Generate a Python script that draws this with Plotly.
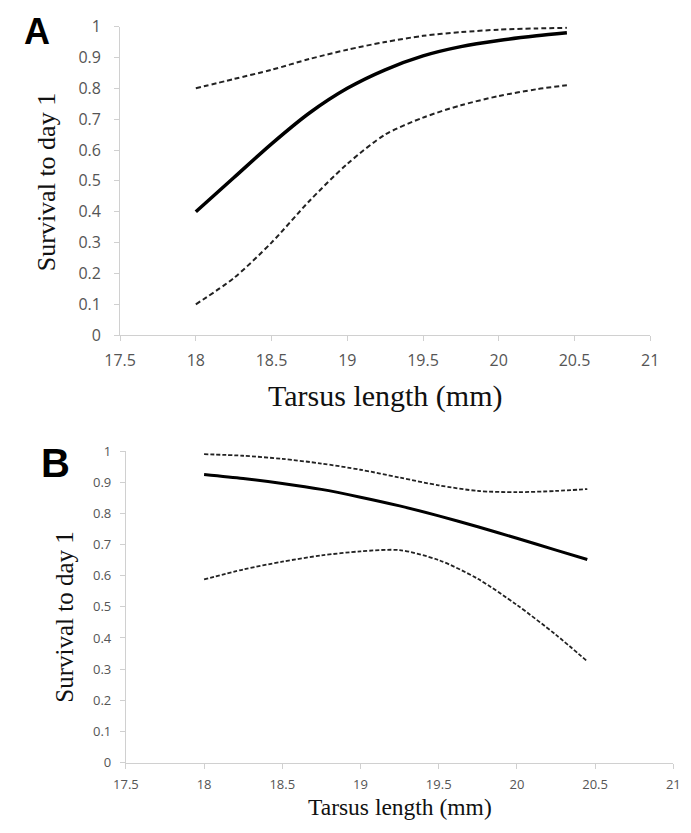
import plotly.graph_objects as go

# ---- data ----
tarsus = [18.0, 18.25, 18.5, 18.75, 19.0, 19.25, 19.5, 19.75, 20.0, 20.25, 20.45]

a_fit   = [0.40, 0.51, 0.62, 0.72, 0.80, 0.86, 0.905, 0.935, 0.955, 0.97, 0.98]
a_upper = [0.80, 0.83, 0.86, 0.895, 0.925, 0.95, 0.97, 0.982, 0.99, 0.994, 0.996]
a_lower = [0.10, 0.185, 0.30, 0.435, 0.555, 0.65, 0.705, 0.745, 0.775, 0.797, 0.81]

b_fit   = [0.925, 0.912, 0.896, 0.877, 0.852, 0.824, 0.792, 0.757, 0.72, 0.682, 0.652]
b_upper = [0.99, 0.985, 0.975, 0.96, 0.94, 0.915, 0.89, 0.872, 0.868, 0.872, 0.878]
b_lower = [0.588, 0.62, 0.645, 0.665, 0.678, 0.682, 0.65, 0.59, 0.506, 0.41, 0.325]

x_ticks = [17.5, 18, 18.5, 19, 19.5, 20, 20.5, 21]
x_ticklabels = ["17.5", "18", "18.5", "19", "19.5", "20", "20.5", "21"]
y_ticks = [0, 0.1, 0.2, 0.3, 0.4, 0.5, 0.6, 0.7, 0.8, 0.9, 1]
y_ticklabels = ["0", "0.1", "0.2", "0.3", "0.4", "0.5", "0.6", "0.7", "0.8", "0.9", "1"]

x_title = "Tarsus length (mm)"
y_title = "Survival to day 1"

W, H = 691, 833

fig = go.Figure()

def add_panel(xa, ya, fit, up, lo, w_fit, w_dash, dash):
    for ys, width, d in [(up, w_dash, dash), (lo, w_dash, dash), (fit, w_fit, "solid")]:
        fig.add_trace(go.Scatter(
            x=tarsus, y=ys, mode="lines", xaxis=xa, yaxis=ya,
            line=dict(color="black" if d == "solid" else "#222222", width=width, dash=d,
                      shape="spline", smoothing=0.8),
            showlegend=False, hoverinfo="skip"))

add_panel("x", "y", a_fit, a_upper, a_lower, 3.5, 2.0, "5px,3px")
add_panel("x2", "y2", b_fit, b_upper, b_lower, 3.0, 1.8, "4px,2px")

axis_common = dict(
    showgrid=False, zeroline=False, showline=True, linecolor="#d0d0d0", linewidth=1,
    ticks="outside", tickcolor="#d0d0d0", ticklen=5, tickwidth=1,
    fixedrange=True,
)

def px_x(p):
    return p / W

def px_y(p):
    return 1 - p / H

fig.update_layout(
    width=W, height=H,
    margin=dict(l=0, r=0, t=0, b=0),
    paper_bgcolor="white", plot_bgcolor="white",
    xaxis=dict(axis_common, domain=[px_x(108), px_x(658)], range=[17.5, 21],
               tickvals=x_ticks, ticktext=x_ticklabels, anchor="y",
               tickfont=dict(family="Open Sans", size=16, color="#555555"),
               ticklabelstandoff=6),
    yaxis=dict(axis_common, domain=[px_y(333), px_y(16)], range=[0, 1],
               tickvals=y_ticks, ticktext=y_ticklabels, anchor="x",
               tickfont=dict(family="Open Sans", size=16, color="#555555"),
               ticklabelstandoff=10),
    xaxis2=dict(axis_common, domain=[px_x(114), px_x(682)], range=[17.5, 21],
                tickvals=x_ticks, ticktext=x_ticklabels, anchor="y2",
                tickfont=dict(family="Open Sans", size=13, color="#555555"),
                ticklabelstandoff=5),
    yaxis2=dict(axis_common, domain=[px_y(772), px_y(452)], range=[0, 1],
                tickvals=y_ticks, ticktext=y_ticklabels, anchor="x2",
                tickfont=dict(family="Open Sans", size=13, color="#555555"),
                ticklabelstandoff=6),
)

ann = []
# axis titles
ann.append(dict(text=x_title, x=px_x(383), y=px_y(395), xref="paper", yref="paper",
                showarrow=False, xanchor="center", yanchor="middle",
                font=dict(family="Liberation Serif", size=30, color="#111111")))
ann.append(dict(text=y_title, x=px_x(31), y=px_y(176), xref="paper", yref="paper",
                showarrow=False, xanchor="center", yanchor="middle", textangle=-90,
                font=dict(family="Liberation Serif", size=26, color="#111111")))
ann.append(dict(text=x_title, x=px_x(398), y=0, xref="paper", yref="paper",
                showarrow=False, xanchor="center", yanchor="bottom",
                font=dict(family="Liberation Serif", size=23.5, color="#111111")))
ann.append(dict(text=y_title, x=px_x(50), y=px_y(622), xref="paper", yref="paper",
                showarrow=False, xanchor="center", yanchor="middle", textangle=-90,
                font=dict(family="Liberation Serif", size=25, color="#111111")))
# panel labels
ann.append(dict(text="<b>A</b>", x=px_x(22), y=px_y(21), xref="paper", yref="paper",
                showarrow=False, xanchor="center", yanchor="middle",
                font=dict(family="Liberation Sans", size=36, color="black")))
ann.append(dict(text="<b>B</b>", x=px_x(41), y=px_y(464), xref="paper", yref="paper",
                showarrow=False, xanchor="center", yanchor="middle",
                font=dict(family="Liberation Sans", size=40, color="black")))
fig.update_layout(annotations=ann)

fig.write_html("out.html")
